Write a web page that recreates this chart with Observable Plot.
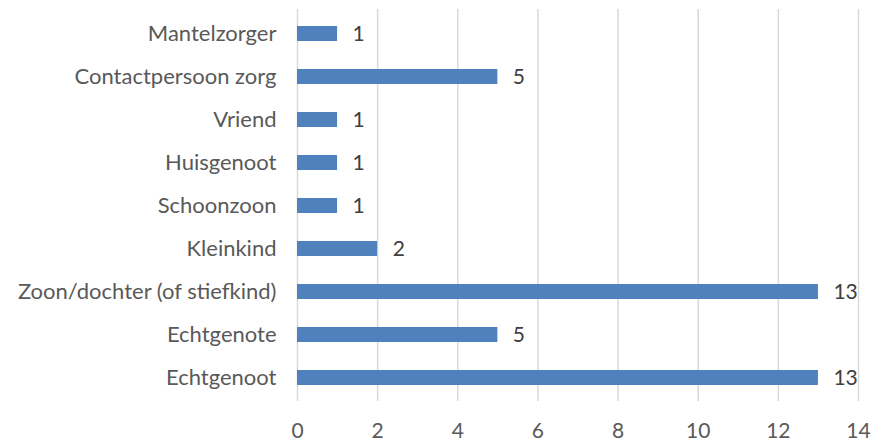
<!DOCTYPE html>
<html>
<head>
<meta charset="utf-8">
<script src="https://cdn.jsdelivr.net/npm/d3@7"></script>
<script src="https://cdn.jsdelivr.net/npm/@observablehq/plot@0.6"></script>
<style>
  html, body { margin: 0; padding: 0; background: #fff; }
  #chart { width: 871px; height: 443px; }
</style>
</head>
<body>
<div id="chart"></div>
<script>
const categories = ["Mantelzorger", "Contactpersoon zorg", "Vriend", "Huisgenoot", "Schoonzoon", "Kleinkind", "Zoon/dochter (of stiefkind)", "Echtgenote", "Echtgenoot"];
const values = [1, 5, 1, 1, 1, 2, 13, 5, 13];
const xTicks = [0, 2, 4, 6, 8, 10, 12, 14];

const data = categories.map((c, i) => ({category: c, value: values[i]}));

const chart = Plot.plot({
  width: 871,
  height: 443,
  marginLeft: 297,
  marginRight: 13,
  marginTop: 9,
  marginBottom: 42,
  style: {fontFamily: "Lato, 'Open Sans', sans-serif", fontSize: "22px", color: "#595959", background: "#fff"},
  x: {domain: [0, 14], ticks: xTicks, label: null},
  y: {domain: categories, paddingInner: 0.655, paddingOuter: 0.3275, label: null},
  marks: [
    Plot.ruleX(xTicks, {stroke: "#d9d9d9", strokeWidth: 1.5}),
    Plot.barX(data, {y: "category", x: "value", fill: "#4f81bd"}),
    Plot.text(data, {y: "category", x: "value", text: d => String(d.value), textAnchor: "start", dx: 15, fill: "#404040", fontSize: 21}),
    Plot.axisX({ticks: xTicks, tickSize: 0, tickPadding: 22, fontSize: 21, fill: "#595959", label: null}),
    Plot.axisY({tickSize: 0, tickPadding: 21, fontSize: 22, fill: "#595959", label: null})
  ]
});
document.getElementById("chart").appendChild(chart);
</script>
</body>
</html>
